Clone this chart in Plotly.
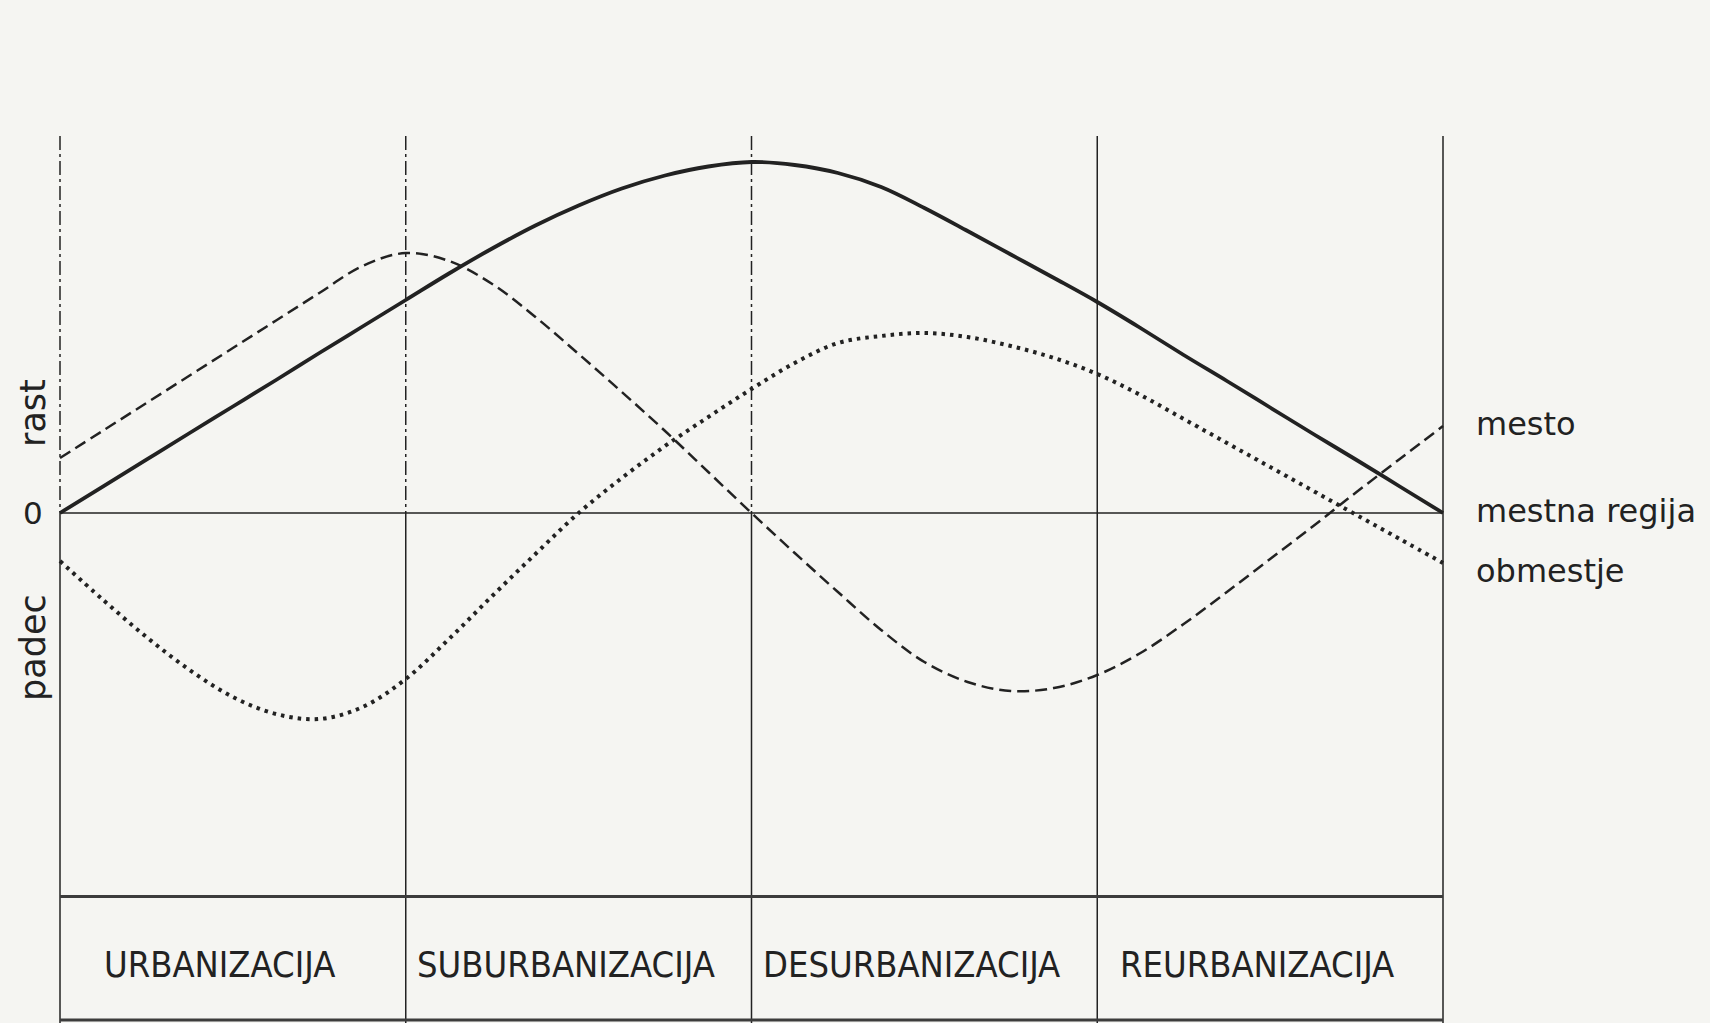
import plotly.graph_objects as go

# ---- data (stage units on x, relative change on y) ----
stages = ["URBANIZACIJA", "SUBURBANIZACIJA", "DESURBANIZACIJA", "REURBANIZACIJA"]
stage_edges = [0, 1, 2, 3, 4]

x_pos = [0, 0.125, 0.25, 0.375, 0.5, 0.625, 0.75, 0.875, 1.0, 1.125, 1.25, 1.375, 1.5, 1.625, 1.75, 1.875,
         2.0, 2.125, 2.25, 2.375, 2.5, 2.625, 2.75, 2.875, 3.0, 3.125, 3.25, 3.375, 3.5, 3.625, 3.75, 3.875, 4.0]

regija_y = [0, 0.267, 0.534, 0.80, 1.065, 1.33, 1.60, 1.865, 2.13, 2.395, 2.645, 2.875, 3.075, 3.245, 3.375, 3.465,
            3.51, 3.48, 3.40, 3.26, 3.05, 2.82, 2.585, 2.35, 2.11, 1.85, 1.58, 1.32, 1.055, 0.79, 0.53, 0.265, 0]

mesto_y = [0.55, 0.825, 1.10, 1.375, 1.65, 1.925, 2.20, 2.47, 2.60, 2.52, 2.29, 1.96, 1.59, 1.21, 0.82, 0.41,
           0, -0.40, -0.79, -1.17, -1.49, -1.69, -1.78, -1.75, -1.62, -1.40, -1.11, -0.79, -0.46, -0.13, 0.21, 0.54, 0.87]

obmestje_y = [-0.48, -0.87, -1.24, -1.57, -1.84, -2.01, -2.06, -1.94, -1.66, -1.26, -0.83, -0.41, 0.0, 0.35, 0.67, 0.96,
              1.24, 1.50, 1.70, 1.77, 1.80, 1.76, 1.67, 1.55, 1.39, 1.18, 0.94, 0.70, 0.46, 0.22, -0.02, -0.26, -0.5]

series_names = ["mesto", "mestna regija", "obmestje"]
axis_labels = ["rast", "0", "padec"]
axis_label_y = [1.0, 0, -1.35]

# ---- layout constants ----
W, H = 1710, 1023
px_per_x = 345.75
px_per_y = 100.0
x0_px, y0_px = 60, 513
xmin = -x0_px / px_per_x
xmax = xmin + W / px_per_x
ymax = y0_px / px_per_y
ymin = ymax - H / px_per_y
top_y = 3.77
table_y = -3.835
bottom_y = -5.07

ink = "#222222"
bg = "#f5f5f2"

fig = go.Figure()

fig.add_trace(go.Scatter(x=x_pos, y=regija_y, mode="lines", name=series_names[1],
                         line=dict(color=ink, width=3.8, shape="spline", smoothing=1.0)))
fig.add_trace(go.Scatter(x=x_pos, y=mesto_y, mode="lines", name=series_names[0],
                         line=dict(color=ink, width=2.5, dash="12px,6px", shape="spline", smoothing=1.0)))
fig.add_trace(go.Scatter(x=x_pos, y=obmestje_y, mode="lines", name=series_names[2],
                         line=dict(color=ink, width=4, dash="3.5px,5px", shape="spline", smoothing=1.0)))

shapes = []
# zero line
shapes.append(dict(type="line", xref="x", yref="y", x0=stage_edges[0], x1=stage_edges[-1], y0=0, y1=0,
                   line=dict(color=ink, width=1.6)))
# vertical stage boundaries
for i, xe in enumerate(stage_edges):
    if i <= 2:
        shapes.append(dict(type="line", xref="x", yref="y", x0=xe, x1=xe, y0=top_y, y1=0,
                           line=dict(color=ink, width=1.5, dash="14px,4px,3px,4px")))
        shapes.append(dict(type="line", xref="x", yref="y", x0=xe, x1=xe, y0=0, y1=ymin,
                           line=dict(color=ink, width=1.5)))
    else:
        shapes.append(dict(type="line", xref="x", yref="y", x0=xe, x1=xe, y0=top_y, y1=ymin,
                           line=dict(color=ink, width=1.5)))
# table lines
shapes.append(dict(type="line", xref="x", yref="y", x0=stage_edges[0], x1=stage_edges[-1], y0=table_y, y1=table_y,
                   line=dict(color="#3c3c3c", width=2.8)))
shapes.append(dict(type="line", xref="x", yref="y", x0=stage_edges[0], x1=stage_edges[-1], y0=bottom_y, y1=bottom_y,
                   line=dict(color="#3c3c3c", width=2.8)))

annotations = []
label_font = dict(family="DejaVu Sans, Noto Sans, sans-serif", size=32, color=ink)
# stage names
for i, s in enumerate(stages):
    annotations.append(dict(x=(stage_edges[i] + stage_edges[i + 1]) / 2, y=(table_y + bottom_y) / 2,
                            xref="x", yref="y", text=s, showarrow=False, xshift=-13, yshift=-6,
                            font=dict(family="Liberation Sans Narrow, DejaVu Sans Condensed, Arial Narrow, sans-serif",
                                      size=36, color=ink)))
# series labels at curve ends
ends = [mesto_y[-1], regija_y[-1], obmestje_y[-1]]
shifts = [2, 2, -8]
for name, ye, ys in zip(series_names, ends, shifts):
    annotations.append(dict(x=stage_edges[-1], y=ye, xref="x", yref="y", text=name, showarrow=False,
                            xanchor="left", xshift=31, yshift=ys, font=label_font))
# left axis words
for t, yv in zip(axis_labels, axis_label_y):
    annotations.append(dict(x=stage_edges[0], y=yv, xref="x", yref="y", text=t, showarrow=False,
                            xshift=-27, textangle=(0 if t == "0" else -90),
                            font=dict(family="DejaVu Sans, Noto Sans, sans-serif", size=(31 if t == "0" else 35),
                                      color=ink)))

fig.update_layout(
    width=W, height=H, margin=dict(l=0, r=0, t=0, b=0),
    paper_bgcolor=bg, plot_bgcolor=bg, showlegend=False,
    xaxis=dict(range=[xmin, xmax], visible=False, fixedrange=True),
    yaxis=dict(range=[ymin, ymax], visible=False, fixedrange=True),
    shapes=shapes, annotations=annotations,
)

fig.write_html("out.html", config={"displayModeBar": False},
               post_script="document.body.style.margin='0';document.body.style.background='%s';" % bg)
